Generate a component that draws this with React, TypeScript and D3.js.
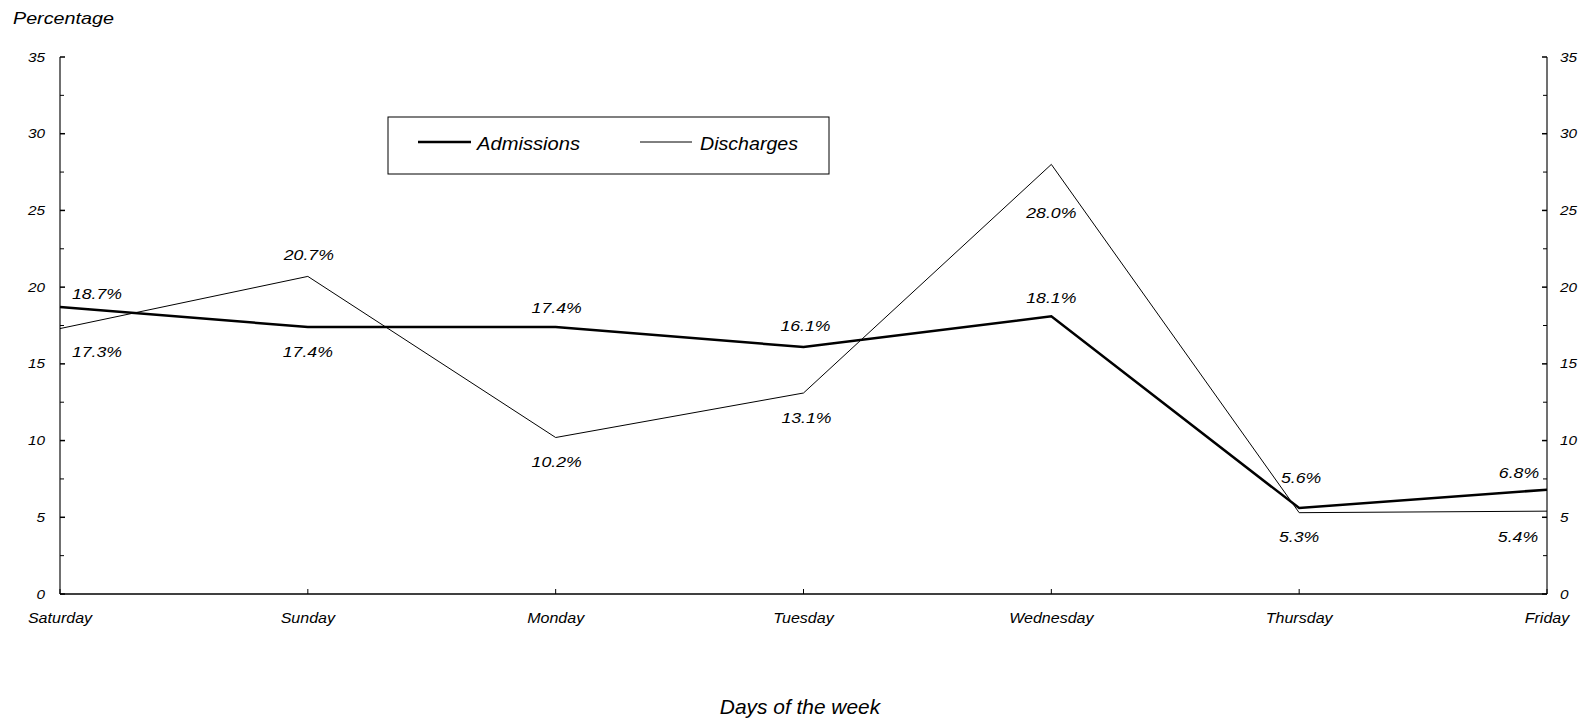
import * as d3 from "d3";
import { useEffect } from "react";

const days = ["Saturday", "Sunday", "Monday", "Tuesday", "Wednesday", "Thursday", "Friday"];
const admissions = [18.7, 17.4, 17.4, 16.1, 18.1, 5.6, 6.8];
const discharges = [17.3, 20.7, 10.2, 13.1, 28.0, 5.3, 5.4];
const yTicks = [0, 5, 10, 15, 20, 25, 30, 35];
const yMinorTicks = [2.5, 7.5, 12.5, 17.5, 22.5, 27.5, 32.5];

// hand placed label offsets (like the original chart), relative to the point
const admLabelOffsets = [[37, -13.5], [0, 24.5], [1, -19], [2, -21], [0, -19], [2, -30.5], [-28, -17]];
const disLabelOffsets = [[37, 23], [1, -21.5], [1, 24], [3, 24.5], [0, 48], [0, 23.5], [-29, 25]];

const W = 1587;
const H = 724;
const FONT = "Arial, 'Liberation Sans', sans-serif";

function SText({ x, y, sx = 1, size, anchor = "middle", children }: any) {
  return (
    <text
      transform={`translate(${x},${y}) scale(${sx},1)`}
      textAnchor={anchor}
      dominantBaseline="central"
      fontSize={size}
      fontStyle="italic"
      fontFamily={FONT}
      fill="#000"
    >
      {children}
    </text>
  );
}

export default function App() {
  useEffect(() => {
    document.body.style.margin = "0";
  }, []);

  const x = d3.scalePoint<string>().domain(days).range([60, 1547]);
  const y = d3.scaleLinear().domain([0, 35]).range([594, 57]);
  const left = 60;
  const right = 1547;

  const line = d3
    .line<number>()
    .x((_, i) => x(days[i]) ?? 0)
    .y((d) => y(d));

  return (
    <svg width={W} height={H} style={{ display: "block", background: "#fff" }}>
      <SText x={13} y={18} sx={1.16} size={17} anchor="start">Percentage</SText>

      {/* y axes */}
      <line x1={left} x2={left} y1={y(35)} y2={y(0)} stroke="#707070" strokeWidth={2} />
      <line x1={right} x2={right} y1={y(35)} y2={y(0)} stroke="#707070" strokeWidth={2} />
      {yTicks.map((t) => (
        <g key={t}>
          <line x1={left} x2={left + 5} y1={y(t)} y2={y(t)} stroke="#000" strokeWidth={1.5} />
          <line x1={right - 5} x2={right} y1={y(t)} y2={y(t)} stroke="#000" strokeWidth={1.5} />
          <SText x={45} y={y(t)} sx={1.18} size={13} anchor="end">{t}</SText>
          <SText x={1560} y={y(t)} sx={1.18} size={13} anchor="start">{t}</SText>
        </g>
      ))}
      {yMinorTicks.map((t) => (
        <g key={t}>
          <line x1={left} x2={left + 4} y1={y(t)} y2={y(t)} stroke="#000" strokeWidth={1} />
          <line x1={right - 4} x2={right} y1={y(t)} y2={y(t)} stroke="#000" strokeWidth={1} />
        </g>
      ))}

      {/* x axis */}
      <line x1={left} x2={right} y1={y(0)} y2={y(0)} stroke="#000" strokeWidth={1.5} />
      {days.map((d) => (
        <g key={d}>
          <line x1={x(d)} x2={x(d)} y1={y(0)} y2={y(0) - 5} stroke="#000" strokeWidth={1} />
          <SText x={x(d)} y={618} sx={1.07} size={15}>{d}</SText>
        </g>
      ))}
      <SText x={800} y={707} sx={1.02} size={20.5}>Days of the week</SText>

      {/* series */}
      <path d={line(discharges) ?? ""} fill="none" stroke="#000" strokeWidth={1} />
      <path d={line(admissions) ?? ""} fill="none" stroke="#000" strokeWidth={2.5} strokeLinejoin="miter" />

      {admissions.map((v, i) => (
        <SText key={"a" + i} x={(x(days[i]) ?? 0) + admLabelOffsets[i][0]} y={y(v) + admLabelOffsets[i][1]} sx={1.22} size={14.5}>
          {v.toFixed(1)}%
        </SText>
      ))}
      {discharges.map((v, i) => (
        <SText key={"d" + i} x={(x(days[i]) ?? 0) + disLabelOffsets[i][0]} y={y(v) + disLabelOffsets[i][1]} sx={1.22} size={14.5}>
          {v.toFixed(1)}%
        </SText>
      ))}

      {/* legend */}
      <rect x={388} y={117} width={441} height={57} fill="#fff" stroke="#000" strokeWidth={1} />
      <line x1={418} x2={471} y1={142} y2={142} stroke="#000" strokeWidth={2.5} />
      <SText x={477} y={144} sx={1.12} size={18} anchor="start">Admissions</SText>
      <line x1={640} x2={692} y1={142} y2={142} stroke="#000" strokeWidth={1} />
      <SText x={700} y={144} sx={1.09} size={18} anchor="start">Discharges</SText>
    </svg>
  );
}
